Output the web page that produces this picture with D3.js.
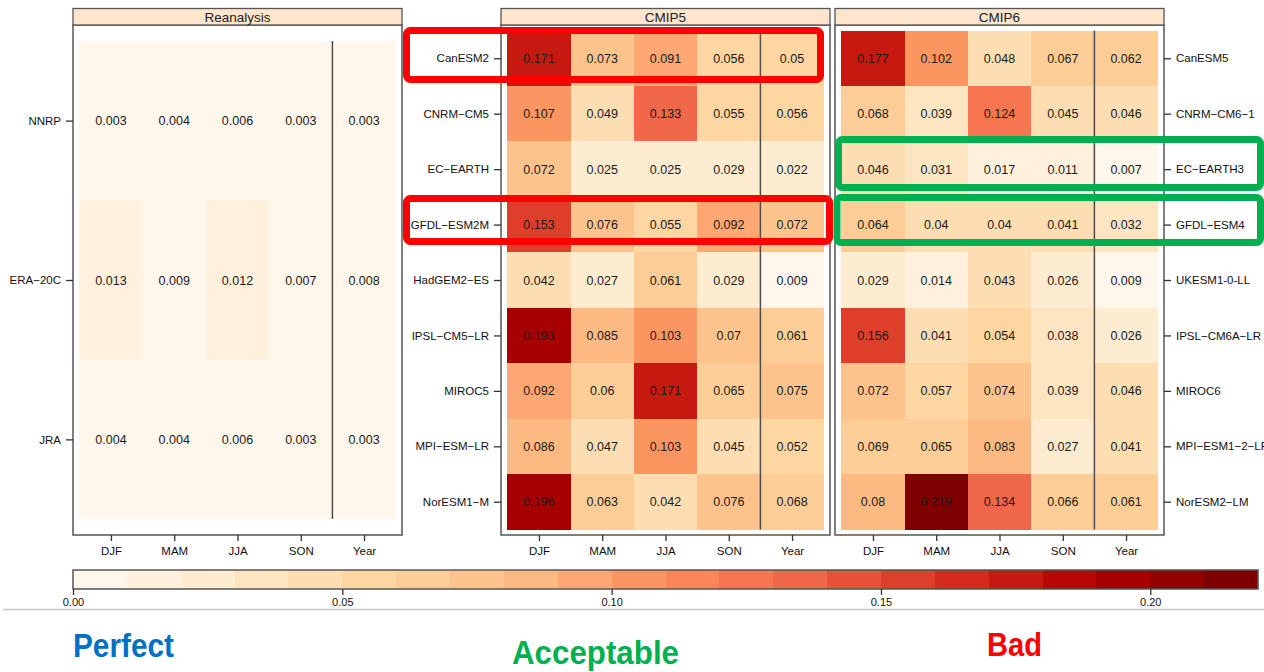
<!DOCTYPE html>
<html>
<head>
<meta charset="utf-8">
<script src="https://cdn.jsdelivr.net/npm/d3@7"></script>
<style>
  html, body { margin: 0; padding: 0; background: #fff; }
  svg { display: block; font-family: "Liberation Sans", Arial, sans-serif; }
</style>
</head>
<body>
<svg id="chart" width="1264" height="672"></svg>
<script>
// Seasons / annual columns shared by every panel
const seasons = ["DJF", "MAM", "JJA", "SON", "Year"];

// Reanalysis products
const reanalysisNames = ["NNRP", "ERA−20C", "JRA"];
const reanalysisValues = [
  [0.003, 0.004, 0.006, 0.003, 0.003],
  [0.013, 0.009, 0.012, 0.007, 0.008],
  [0.004, 0.004, 0.006, 0.003, 0.003]
];

// CMIP5 models
const cmip5Names = ["CanESM2", "CNRM−CM5", "EC−EARTH", "GFDL−ESM2M", "HadGEM2−ES",
                    "IPSL−CM5−LR", "MIROC5", "MPI−ESM−LR", "NorESM1−M"];
const cmip5Values = [
  [0.171, 0.073, 0.091, 0.056, 0.05],
  [0.107, 0.049, 0.133, 0.055, 0.056],
  [0.072, 0.025, 0.025, 0.029, 0.022],
  [0.153, 0.076, 0.055, 0.092, 0.072],
  [0.042, 0.027, 0.061, 0.029, 0.009],
  [0.193, 0.085, 0.103, 0.07, 0.061],
  [0.092, 0.06, 0.171, 0.065, 0.075],
  [0.086, 0.047, 0.103, 0.045, 0.052],
  [0.196, 0.063, 0.042, 0.076, 0.068]
];

// CMIP6 models
const cmip6Names = ["CanESM5", "CNRM−CM6−1", "EC−EARTH3", "GFDL−ESM4", "UKESM1-0-LL",
                    "IPSL−CM6A−LR", "MIROC6", "MPI−ESM1−2−LR", "NorESM2−LM"];
const cmip6Values = [
  [0.177, 0.102, 0.048, 0.067, 0.062],
  [0.068, 0.039, 0.124, 0.045, 0.046],
  [0.046, 0.031, 0.017, 0.011, 0.007],
  [0.064, 0.04, 0.04, 0.041, 0.032],
  [0.029, 0.014, 0.043, 0.026, 0.009],
  [0.156, 0.041, 0.054, 0.038, 0.026],
  [0.072, 0.057, 0.074, 0.039, 0.046],
  [0.069, 0.065, 0.083, 0.027, 0.041],
  [0.08, 0.219, 0.134, 0.066, 0.061]
];

// Colour key breaks and tick labels
const keyBreaks = d3.range(0, 0.2201, 0.01);
const keyTicks = [0, 0.05, 0.10, 0.15, 0.20];
const keyTickLabels = ["0.00", "0.05", "0.10", "0.15", "0.20"];

// Verdict labels under the key
const verdicts = ["Perfect", "Acceptable", "Bad"];

// ---------------------------------------------------------------------------
const svg = d3.select("#chart");
svg.append("rect").attr("width", 1264).attr("height", 672).attr("fill", "#fff");

// OrRd ramp stretched over the 22 bins of the key
const orrd = ["#FFF7EC", "#FEE8C8", "#FDD49E", "#FDBB84", "#FC8D59",
              "#EF6548", "#D7301F", "#B30000", "#7F0000"];
const ramp = d3.scaleLinear()
  .domain(d3.range(orrd.length).map(i => i / (orrd.length - 1)))
  .range(orrd)
  .interpolate(d3.interpolateRgb);
const nBins = keyBreaks.length - 1;
const binColors = d3.range(nBins).map(i => ramp(i / (nBins - 1)));
const colour = d3.scaleThreshold()
  .domain(keyBreaks.slice(1, -1))
  .range(binColors);

const panelTop = 25, panelBottom = 535, stripTop = 8.5;
const borderCol = "#555";

const panels = [
  { title: "Reanalysis", names: reanalysisNames, values: reanalysisValues, x0: 73,  x1: 402,  side: "left" },
  { title: "CMIP5",      names: cmip5Names,      values: cmip5Values,      x0: 501, x1: 830,  side: "left" },
  { title: "CMIP6",      names: cmip6Names,      values: cmip6Values,      x0: 835, x1: 1164, side: "right" }
];

panels.forEach(p => {
  const n = p.names.length;
  const x = d3.scaleLinear().domain([0.4, seasons.length + 0.6]).range([p.x0, p.x1]);
  const y = d3.scaleLinear().domain([0.4, n + 0.6]).range([panelTop, panelBottom]);
  const g = svg.append("g");

  // cells
  const cells = [];
  p.values.forEach((row, i) => row.forEach((v, j) => cells.push({ i, j, v })));
  g.selectAll("rect.cell").data(cells).join("rect")
    .attr("class", "cell")
    .attr("x", d => x(d.j + 0.5))
    .attr("y", d => y(d.i + 0.5))
    .attr("width", d => x(d.j + 1.5) - x(d.j + 0.5) + 0.3)
    .attr("height", d => y(d.i + 1.5) - y(d.i + 0.5) + 0.3)
    .attr("fill", d => colour(d.v))
    .attr("shape-rendering", "crispEdges");

  g.selectAll("text.val").data(cells).join("text")
    .attr("class", "val")
    .attr("x", d => x(d.j + 1))
    .attr("y", d => y(d.i + 1))
    .attr("dy", "0.36em")
    .attr("text-anchor", "middle")
    .attr("font-size", 12.5)
    .attr("fill", "#1a1a1a")
    .text(d => String(d.v));

  // separator between seasonal and annual columns
  g.append("line")
    .attr("x1", x(4.5)).attr("x2", x(4.5))
    .attr("y1", y(0.5)).attr("y2", y(n + 0.5))
    .attr("stroke", "#4d4d4d").attr("stroke-width", 1.5);

  // panel frame
  g.append("rect")
    .attr("x", p.x0).attr("y", panelTop)
    .attr("width", p.x1 - p.x0).attr("height", panelBottom - panelTop)
    .attr("fill", "none").attr("stroke", borderCol).attr("stroke-width", 1.5);

  // strip
  g.append("rect")
    .attr("x", p.x0).attr("y", stripTop)
    .attr("width", p.x1 - p.x0).attr("height", panelTop - stripTop)
    .attr("fill", "#FFE5CC").attr("stroke", borderCol).attr("stroke-width", 1.3);
  g.append("text")
    .attr("x", (p.x0 + p.x1) / 2).attr("y", 21.8)
    .attr("text-anchor", "middle").attr("font-size", 13.5).attr("fill", "#222")
    .text(p.title);

  // bottom axis
  const xAxis = d3.axisBottom(x)
    .tickValues(d3.range(1, seasons.length + 1))
    .tickFormat(d => seasons[d - 1])
    .tickSize(6).tickPadding(6);
  const xa = g.append("g").attr("transform", `translate(0,${panelBottom})`).call(xAxis);
  xa.select(".domain").remove();
  xa.selectAll("line").attr("stroke", "#333").attr("stroke-width", 1.3);
  xa.selectAll("text").attr("font-size", 11.5).attr("fill", "#111")
    .attr("font-family", "Liberation Sans, Arial, sans-serif");

  // model / product axis
  const yAxis = (p.side === "left" ? d3.axisLeft(y) : d3.axisRight(y))
    .tickValues(d3.range(1, n + 1))
    .tickFormat(d => p.names[d - 1])
    .tickSize(7).tickPadding(5);
  const ya = g.append("g")
    .attr("transform", `translate(${p.side === "left" ? p.x0 : p.x1},0)`)
    .call(yAxis);
  ya.select(".domain").remove();
  ya.selectAll("line").attr("stroke", "#333").attr("stroke-width", 1.3);
  ya.selectAll("text").attr("font-size", 11.5).attr("fill", "#111")
    .attr("font-family", "Liberation Sans, Arial, sans-serif");
});

// ---------------------------------------------------------------------------
// colour key
const kx = d3.scaleLinear().domain([0, 0.22]).range([73, 1258]);
const keyTop = 570, keyBottom = 589;
const key = svg.append("g");
key.selectAll("rect.bin").data(d3.range(nBins)).join("rect")
  .attr("class", "bin")
  .attr("x", i => kx(keyBreaks[i]))
  .attr("y", keyTop)
  .attr("width", i => kx(keyBreaks[i + 1]) - kx(keyBreaks[i]) + 0.3)
  .attr("height", keyBottom - keyTop)
  .attr("fill", i => binColors[i])
  .attr("shape-rendering", "crispEdges");
key.append("rect")
  .attr("x", kx(0)).attr("y", keyTop)
  .attr("width", kx(0.22) - kx(0)).attr("height", keyBottom - keyTop)
  .attr("fill", "none").attr("stroke", borderCol).attr("stroke-width", 1.5);
const keyAxis = d3.axisBottom(kx)
  .tickValues(keyTicks)
  .tickFormat((d, i) => keyTickLabels[i])
  .tickSize(6).tickPadding(3);
const ka = key.append("g").attr("transform", `translate(0,${keyBottom})`).call(keyAxis);
ka.select(".domain").remove();
ka.selectAll("line").attr("stroke", "#333").attr("stroke-width", 1.3);
ka.selectAll("text").attr("font-size", 11).attr("fill", "#111")
  .attr("font-family", "Liberation Sans, Arial, sans-serif");

// light rule under the key
svg.append("line")
  .attr("x1", 3).attr("x2", 1264).attr("y1", 609.5).attr("y2", 609.5)
  .attr("stroke", "#c8c8c8").attr("stroke-width", 1.5);

// ---------------------------------------------------------------------------
// highlight frames
const frames = [
  { x: 406.5, y: 30.5,  w: 414,   h: 49,   c: "#FF0000" },
  { x: 406.5, y: 198.5, w: 423,   h: 43,   c: "#FF0000" },
  { x: 838.5, y: 139.5, w: 422,   h: 48,   c: "#00B050" },
  { x: 837,   y: 197.5, w: 423.5, h: 45,   c: "#00B050" }
];
svg.append("g").selectAll("rect").data(frames).join("rect")
  .attr("x", d => d.x).attr("y", d => d.y)
  .attr("width", d => d.w).attr("height", d => d.h)
  .attr("rx", 4).attr("ry", 4)
  .attr("fill", "none").attr("stroke", d => d.c).attr("stroke-width", 7);

// verdict labels
const verdictStyle = [
  { x: 73,  y: 657, len: 101, c: "#0070C0" },
  { x: 512, y: 664, len: 167, c: "#00B050" },
  { x: 987, y: 656, len: 55,  c: "#FF0000" }
];
svg.append("g").selectAll("text").data(verdicts).join("text")
  .attr("x", (d, i) => verdictStyle[i].x)
  .attr("y", (d, i) => verdictStyle[i].y)
  .attr("textLength", (d, i) => verdictStyle[i].len)
  .attr("lengthAdjust", "spacingAndGlyphs")
  .attr("font-size", 33)
  .attr("font-weight", "bold")
  .attr("fill", (d, i) => verdictStyle[i].c)
  .text(d => d);
</script>
</body>
</html>
